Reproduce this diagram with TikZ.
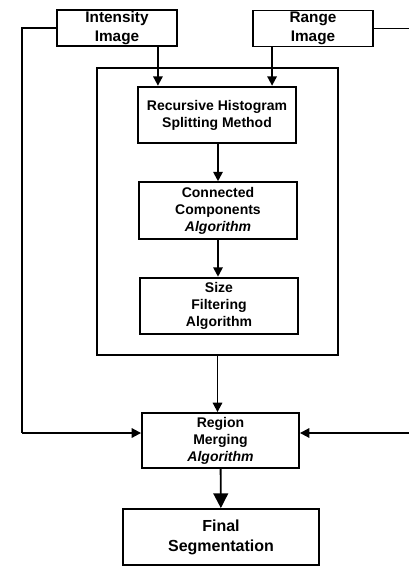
\documentclass[tikz,border=0pt]{standalone}
\usepackage{fontspec}
\setmainfont{Liberation Sans}
\usetikzlibrary{arrows.meta,calc,positioning}

\tikzset{
  blk/.style={draw, line width=1.4pt, align=center, inner sep=1pt,
    font=\bfseries\fontsize{10.5}{12.75}\selectfont},
  srcblk/.style={blk, minimum width=90pt, minimum height=27pt,
    font=\bfseries\fontsize{11.5}{14}\selectfont},
  stepblk/.style={blk, minimum width=118.5pt, minimum height=42.5pt},
  flow/.style={line width=1.4pt, -{Triangle[length=7pt,width=7pt]}},
  bigflow/.style={line width=1.4pt, -{Triangle[length=11pt,width=11pt]}},
  wire/.style={line width=1.4pt},
}

\begin{document}
\begin{tikzpicture}[x=0.75pt,y=-0.75pt]
    \useasboundingbox (0,0) rectangle (409,566);

    % inputs
    \node[srcblk] (intensity) at (117,28) {Intensity\\Image};
    \node[srcblk] (range) at (313,28.5) {Range\\Image};

    % segmentation core
    \node[draw, line width=1.4pt, minimum width=180.75pt, minimum height=215.25pt] (core) at (217.5,211.5) {};
    \node[stepblk] (hist) at (217,115) {Recursive Histogram\\Splitting Method};
    \node[stepblk] (concomp) at (218,210.5) {Connected\\Components\\\textit{Algorithm}};
    \node[stepblk] (sizefilt) at (219,306) {Size\\Filtering\\Algorithm};

    % merging and result
    \node[blk, minimum width=117.75pt, minimum height=41.25pt] (merging) at (220.5,440.5) {Region\\Merging\\\textit{Algorithm}};
    \node[blk, minimum width=147pt, minimum height=42pt,
      font=\bfseries\fontsize{12}{15}\selectfont] (finalseg) at (221,537) {Final\\Segmentation};

    \coordinate (lbus) at (22,433);
    \coordinate (rbus) at (409,433);

    \draw[flow] ([xshift=-15pt]intensity.south east) -- ([xshift=-15pt]intensity.south east |- hist.north);
    \draw[flow] ([xshift=15pt]range.south west) -- ([xshift=15pt]range.south west |- hist.north);
    \draw[flow] (concomp.north |- hist.south) -- (concomp.north);
    \draw[flow] (concomp.south) -- (concomp.south |- sizefilt.north);
    \draw[flow] (core.south) -- (core.south |- merging.north);
    \draw[bigflow] (merging) -- (finalseg);

    \draw[wire] (intensity.west) -| (lbus);
    \draw[flow] (lbus) -- (lbus -| merging.west); % intensity bypass
    \draw[wire] (range.east) -- (range.east -| rbus);
    \draw[flow] (rbus) -- (rbus -| merging.east); % range bypass

\end{tikzpicture}
\end{document}
